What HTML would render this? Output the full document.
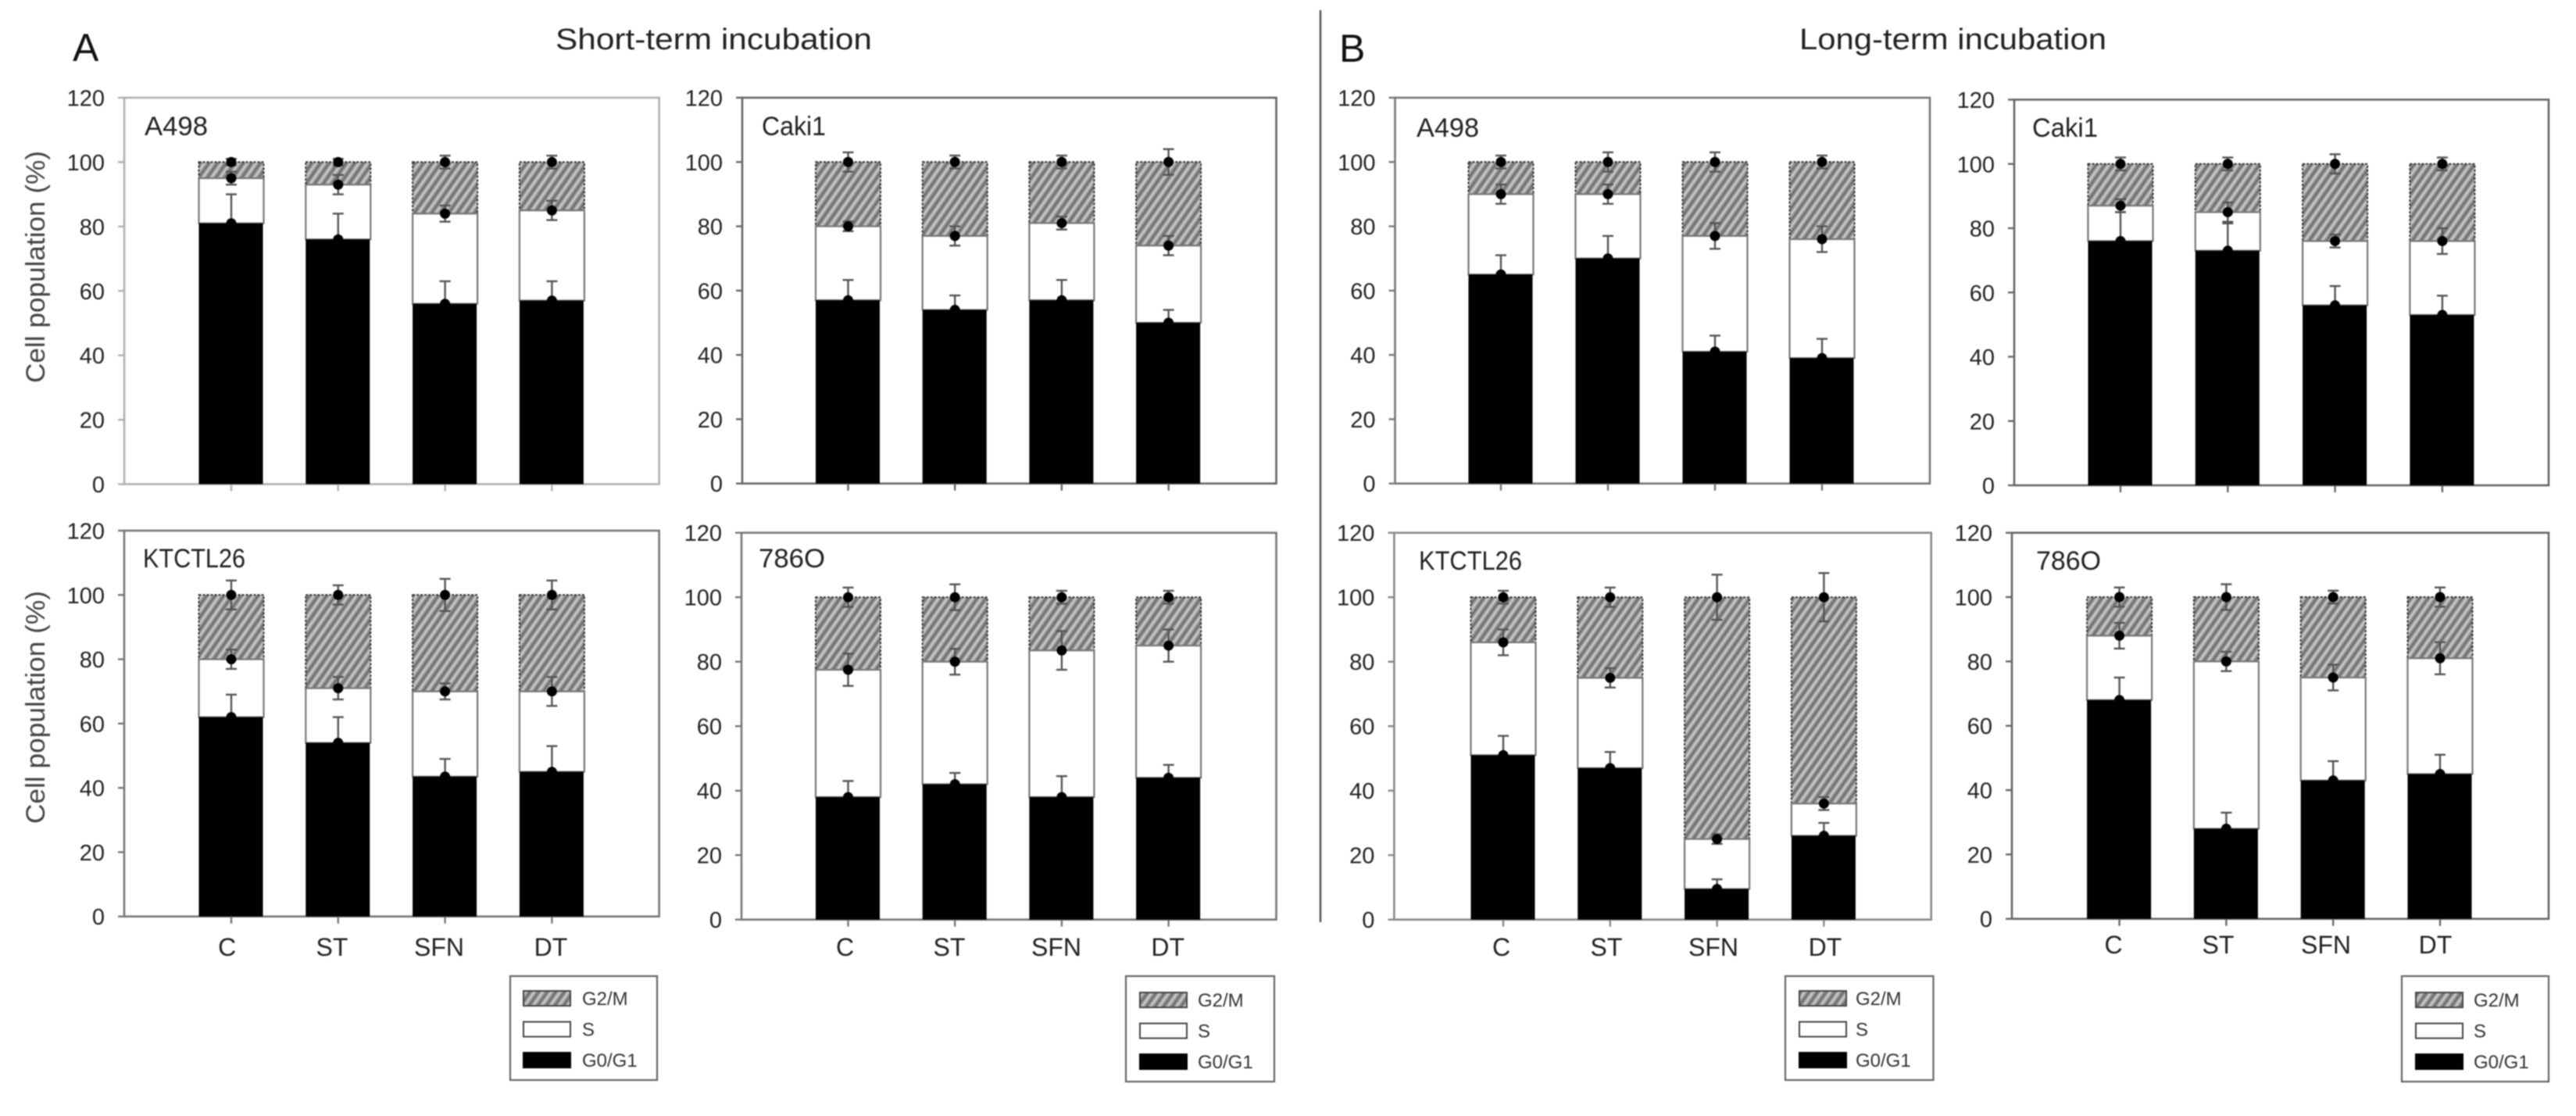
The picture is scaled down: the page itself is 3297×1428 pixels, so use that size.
<!DOCTYPE html>
<html lang="en">
<head>
<meta charset="utf-8">
<title>Cell cycle distribution after short-term and long-term incubation</title>
<style>
html,body{margin:0;padding:0;background:#fff;width:3297px;height:1428px;overflow:hidden}
svg{display:block;filter:blur(0.8px)}
text{font-family:"Liberation Sans",Arial,sans-serif}
</style>
</head>
<body>
<svg id="figure" xmlns="http://www.w3.org/2000/svg" width="3297" height="1428" viewBox="0 0 3297 1428">
  <defs>
    <pattern id="hatch" patternUnits="userSpaceOnUse" width="9" height="9" patternTransform="rotate(-55)">
      <rect width="9" height="9" fill="#9a9a9a"/>
      <rect x="0" y="0" width="9" height="2.2" fill="#cdcdcd"/>
      <rect x="0" y="4.5" width="9" height="2.4" fill="#6c6c6c"/>
    </pattern>
  </defs>
  <rect x="0" y="0" width="3297" height="1428" fill="#fff"/>
  <text x="93" y="78" font-size="50" fill="#111">A</text>
  <text x="711" y="63" font-size="38" fill="#222" textLength="405" lengthAdjust="spacingAndGlyphs">Short-term incubation</text>
  <text x="1714" y="79" font-size="50" fill="#111">B</text>
  <text x="2303" y="63" font-size="38" fill="#222" textLength="393" lengthAdjust="spacingAndGlyphs">Long-term incubation</text>
  <line x1="1690" y1="13" x2="1690" y2="1180" stroke="#555" stroke-width="2.5"/>
  <text transform="translate(57,490) rotate(-90)" font-size="34" fill="#444" textLength="297" lengthAdjust="spacingAndGlyphs">Cell population (%)</text>
  <text transform="translate(57,1054) rotate(-90)" font-size="34" fill="#444" textLength="298" lengthAdjust="spacingAndGlyphs">Cell population (%)</text>
  <g id="panels"></g>
</svg>
<script>
const categories = ['C', 'ST', 'SFN', 'DT'];
const yTicks = [0, 20, 40, 60, 80, 100, 120];
const seriesNames = ['G2/M', 'S', 'G0/G1'];

// Cumulative top of each stacked segment.
const a498ShortG0 = [81, 76, 56, 57];
const a498ShortS = [95, 93, 84, 85];
const a498ShortG2 = [100, 100, 100, 100];
const a498ShortG0Err = [9, 8, 7, 6];
const a498ShortSErr = [2, 3, 2.5, 3];
const a498ShortG2Err = [1, 1, 2, 2];

const caki1ShortG0 = [57, 54, 57, 50];
const caki1ShortS = [80, 77, 81, 74];
const caki1ShortG2 = [100, 100, 100, 100];
const caki1ShortG0Err = [6.3, 4.5, 6.3, 4];
const caki1ShortSErr = [1.5, 3, 2, 3];
const caki1ShortG2Err = [3, 2, 2, 4];

const a498LongG0 = [65, 70, 41, 39];
const a498LongS = [90, 90, 77, 76];
const a498LongG2 = [100, 100, 100, 100];
const a498LongG0Err = [6, 7, 5, 6];
const a498LongSErr = [3, 3, 4, 4];
const a498LongG2Err = [2, 3, 3, 2];

const caki1LongG0 = [76, 73, 56, 53];
const caki1LongS = [87, 85, 76, 76];
const caki1LongG2 = [100, 100, 100, 100];
const caki1LongG0Err = [9, 8.5, 6, 6];
const caki1LongSErr = [2, 3, 2, 4];
const caki1LongG2Err = [2, 2, 3, 2];

const ktctlShortG0 = [62, 54, 43.5, 45];
const ktctlShortS = [80, 71, 70, 70];
const ktctlShortG2 = [100, 100, 100, 100];
const ktctlShortG0Err = [7, 8, 5.5, 8];
const ktctlShortSErr = [3, 3.5, 2.5, 4.5];
const ktctlShortG2Err = [4.5, 3, 5, 4.5];

const c786ShortG0 = [38, 42, 38, 44];
const c786ShortS = [77.5, 80, 83.5, 85];
const c786ShortG2 = [100, 100, 100, 100];
const c786ShortG0Err = [5, 3.5, 6.5, 4];
const c786ShortSErr = [5, 4, 6, 5];
const c786ShortG2Err = [3, 4, 2, 2];

const ktctlLongG0 = [51, 47, 9.5, 26];
const ktctlLongS = [86, 75, 25, 36];
const ktctlLongG2 = [100, 100, 100, 100];
const ktctlLongG0Err = [6, 5, 3, 4];
const ktctlLongSErr = [4, 3, 1.5, 2];
const ktctlLongG2Err = [2, 3, 7, 7.5];

const c786LongG0 = [68, 28, 43, 45];
const c786LongS = [88, 80, 75, 81];
const c786LongG2 = [100, 100, 100, 100];
const c786LongG0Err = [7, 5, 6, 6];
const c786LongSErr = [4, 3, 4, 5];
const c786LongG2Err = [3, 4, 2, 3];

// Panel layout (geometry only); values come from the arrays above.
const panels = [
  {key:'a498-short', title:'A498', titleX:185, titleY:173, titleW:81, left:159, right:843.6, top:125, bottom:619.5, first:296, step:136.8, frame:'#b0b0b0',
   g0:a498ShortG0, s:a498ShortS, g2:a498ShortG2, g0e:a498ShortG0Err, se:a498ShortSErr, g2e:a498ShortG2Err},
  {key:'caki1-short', title:'Caki1', titleX:975, titleY:173, titleW:82, left:950, right:1633.5, top:125, bottom:618.7, first:1085.5, step:136.7, frame:'#666',
   g0:caki1ShortG0, s:caki1ShortS, g2:caki1ShortG2, g0e:caki1ShortG0Err, se:caki1ShortSErr, g2e:caki1ShortG2Err},
  {key:'a498-long', title:'A498', titleX:1813, titleY:175, titleW:80, left:1785.5, right:2470, top:125, bottom:618.7, first:1921, step:137, frame:'#777',
   g0:a498LongG0, s:a498LongS, g2:a498LongG2, g0e:a498LongG0Err, se:a498LongSErr, g2e:a498LongG2Err},
  {key:'caki1-long', title:'Caki1', titleX:2601, titleY:175, titleW:84, left:2578, right:3262, top:127.5, bottom:621, first:2714, step:137.3, frame:'#666',
   g0:caki1LongG0, s:caki1LongS, g2:caki1LongG2, g0e:caki1LongG0Err, se:caki1LongSErr, g2e:caki1LongG2Err},
  {key:'ktctl26-short', title:'KTCTL26', titleX:183, titleY:726, titleW:131, left:159, right:843.6, top:679, bottom:1172.7, first:296, step:136.8, frame:'#777',
   labelX:[290.7, 425, 562, 705], labelY:1223,
   legend:{x:653, y:1249, w:188, h:133, sx:670, tx:745, dy:0},
   g0:ktctlShortG0, s:ktctlShortS, g2:ktctlShortG2, g0e:ktctlShortG0Err, se:ktctlShortSErr, g2e:ktctlShortG2Err},
  {key:'786o-short', title:'786O', titleX:971, titleY:726, titleW:85, left:949, right:1633.5, top:681.7, bottom:1176.7, first:1085.5, step:136.7, frame:'#777',
   labelX:[1081.6, 1215, 1352, 1494.7], labelY:1223,
   legend:{x:1441, y:1249, w:190, h:135, sx:1459, tx:1533, dy:2},
   g0:c786ShortG0, s:c786ShortS, g2:c786ShortG2, g0e:c786ShortG0Err, se:c786ShortSErr, g2e:c786ShortG2Err},
  {key:'ktctl26-long', title:'KTCTL26', titleX:1816, titleY:729, titleW:132, left:1784.4, right:2471.7, top:681.7, bottom:1176.7, first:1924, step:136.8, frame:'#888',
   labelX:[1921.5, 2056, 2193, 2336], labelY:1223,
   legend:{x:2285, y:1249, w:189.5, h:133, sx:2303, tx:2375, dy:0},
   g0:ktctlLongG0, s:ktctlLongS, g2:ktctlLongG2, g0e:ktctlLongG0Err, se:ktctlLongSErr, g2e:ktctlLongG2Err},
  {key:'786o-long', title:'786O', titleX:2606, titleY:729, titleW:83, left:2575, right:3262, top:681.7, bottom:1175.7, first:2712.6, step:136.8, frame:'#666',
   labelX:[2705, 2839, 2977, 3117], labelY:1220,
   legend:{x:3074, y:1249, w:188, h:135, sx:3092, tx:3166, dy:2},
   g0:c786LongG0, s:c786LongS, g2:c786LongG2, g0e:c786LongG0Err, se:c786LongSErr, g2e:c786LongG2Err}
];

const SVG_NS = 'http://www.w3.org/2000/svg';
const BAR_WIDTH = 83;
const Y_MAX = 120;

function make(tag, attrs, parent) {
  const el = document.createElementNS(SVG_NS, tag);
  for (const k in attrs) el.setAttribute(k, attrs[k]);
  parent.appendChild(el);
  return el;
}
function yScale(p, v) {
  return p.bottom - (v / Y_MAX) * (p.bottom - p.top);
}
function xScale(p, i) {
  return p.first + i * p.step;
}

function drawError(p, group, x, value, err, lowerToo, name) {
  const yTop = yScale(p, value + err);
  const yLow = yScale(p, lowerToo ? value - err : value);
  const line = make('line', {x1:x, x2:x, y1:yTop, y2:yLow, stroke:'#555', 'stroke-width':2.4}, group);
  
  
  const capTop = make('line', {x1:x - 7, x2:x + 7, y1:yTop, y2:yTop, stroke:'#555', 'stroke-width':2.4}, group);
  
  
  if (lowerToo) {
    const capLow = make('line', {x1:x - 7, x2:x + 7, y1:yLow, y2:yLow, stroke:'#555', 'stroke-width':2.4}, group);
    
    
  }
  const dot = make('circle', {cx:x, cy:yScale(p, value), r:6.5, fill:'#000'}, group);
  
  
}

function drawPanel(p, root) {
  const g = make('g', {}, root);
  
  

  const frame = make('rect', {x:p.left, y:p.top, width:p.right - p.left, height:p.bottom - p.top, fill:'#fff', stroke:p.frame, 'stroke-width':2.6}, g);
  
  

  yTicks.forEach(function (t) {
    const y = yScale(p, t);
    const tick = make('line', {x1:p.left - 8, x2:p.left, y1:y, y2:y, stroke:p.frame, 'stroke-width':2.4}, g);
    
    
    const label = make('text', {x:p.left - 25, y:y + 10.5, 'font-size':29, 'text-anchor':'end', fill:'#222'}, g);
    
    
    label.textContent = t;
  });

  const title = make('text', {x:p.titleX, y:p.titleY, 'font-size':34, fill:'#222', textLength:p.titleW, lengthAdjust:'spacingAndGlyphs'}, g);
  
  
  title.textContent = p.title;

  categories.forEach(function (cat, i) {
    const cx = xScale(p, i);
    const bx = cx - BAR_WIDTH / 2;
    const base = cat.toLowerCase();

    const tick = make('line', {x1:cx, x2:cx, y1:p.bottom, y2:p.bottom + 9, stroke:p.frame, 'stroke-width':2.4}, g);
    
    

    const hatchBar = make('rect', {x:bx, y:yScale(p, p.g2[i]), width:BAR_WIDTH, height:yScale(p, p.s[i]) - yScale(p, p.g2[i]), fill:'url(#hatch)', stroke:'#333', 'stroke-width':2, 'stroke-dasharray':'3 2'}, g);
    
    

    const sBar = make('rect', {x:bx, y:yScale(p, p.s[i]), width:BAR_WIDTH, height:yScale(p, p.g0[i]) - yScale(p, p.s[i]), fill:'#fff', stroke:'#777', 'stroke-width':2.2}, g);
    
    

    const g0Bar = make('rect', {x:bx, y:yScale(p, p.g0[i]), width:BAR_WIDTH - 1, height:p.bottom - yScale(p, p.g0[i]), fill:'#000'}, g);
    
    

    drawError(p, g, cx, p.g0[i], p.g0e[i], false, 'g0g1-' + base);
    drawError(p, g, cx, p.s[i], p.se[i], true, 's-' + base);
    drawError(p, g, cx, p.g2[i], p.g2e[i], true, 'g2m-' + base);

    if (p.labelX) {
      const label = make('text', {x:p.labelX[i], y:p.labelY, 'font-size':32, 'text-anchor':'middle', fill:'#222'}, g);
      
      
      label.textContent = cat;
    }
  });

  if (p.legend) drawLegend(p.legend, g);
}

function drawLegend(l, parent) {
  const g = make('g', {}, parent);
  
  

  const box = make('rect', {x:l.x, y:l.y, width:l.w, height:l.h, fill:'#fff', stroke:'#666', 'stroke-width':2.2}, g);
  
  

  const fills = ['url(#hatch)', '#fff', '#000'];
  seriesNames.forEach(function (name, i) {
    const rowY = l.y + 19 + l.dy + i * 39.5;
    const key = name.toLowerCase().replace('/', '');
    const swatch = make('rect', {x:l.sx, y:rowY, width:60, height:19, fill:fills[i], stroke:i === 2 ? '#000' : '#444', 'stroke-width':2}, g);
    
    
    const text = make('text', {x:l.tx, y:rowY + 18, 'font-size':24, fill:'#333'}, g);
    
    
    text.textContent = name;
  });
}

const panelRoot = document.getElementById('panels');
panels.forEach(function (p) { drawPanel(p, panelRoot); });
</script>
</body>
</html>
